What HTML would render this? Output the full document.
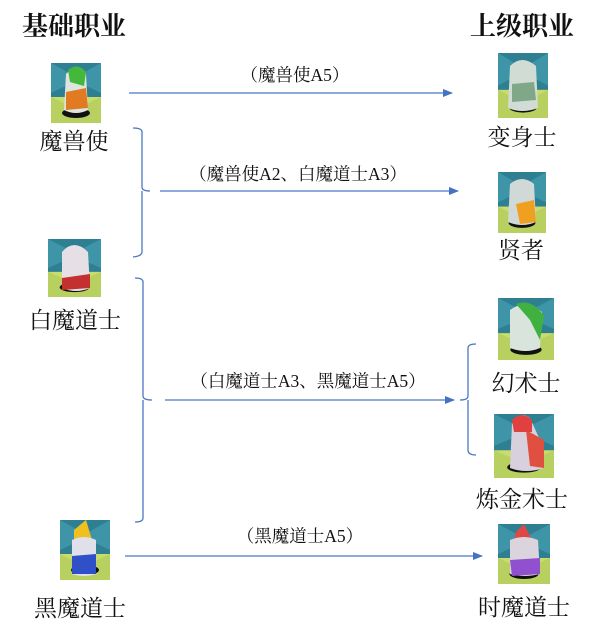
<!DOCTYPE html>
<html><head><meta charset="utf-8"><style>
body{margin:0;background:#fff;width:616px;height:638px;overflow:hidden}
svg text{font-family:"Liberation Serif","Noto Serif CJK SC",serif;fill:#111}
.h{font-family:"Liberation Serif","Noto Serif CJK SC",serif;font-weight:bold;font-size:26px}
.n{font-size:23px}
.l{font-size:17.5px}
</style></head><body>
<svg width="616" height="638" viewBox="0 0 616 638" xmlns="http://www.w3.org/2000/svg">
<defs>
<marker id="a" markerWidth="10" markerHeight="8" refX="9" refY="4" orient="auto" markerUnits="userSpaceOnUse"><path d="M0,0 L10,4 L0,8 z" fill="#4472c4"/></marker>
<symbol id="tile" viewBox="0 0 50 60" preserveAspectRatio="none"><rect width="50" height="60" fill="#2f7f92"/><path d="M0,0 L25,14 L50,0 L50,30 L25,18 L0,30z" fill="#3f95a8"/><rect y="34" width="50" height="26" fill="#c9dc6e"/><path d="M0,34 L25,46 L50,34 L50,60 L0,60z" fill="#b8d060"/><ellipse cx="25" cy="50" rx="14" ry="5" fill="#111"/></symbol>
</defs>
<text class="h" x="22" y="35">基础职业</text>
<text class="h" x="470" y="35">上级职业</text>

<use href="#tile" x="51" y="63" width="50" height="60"/>
<path d="M66,74 Q76,64 86,74 L88,110 Q76,116 64,110z" fill="#dde5e0"/><path d="M68,70 Q78,62 86,72 L84,86 L70,82z" fill="#44b83a"/><path d="M66,92 L86,88 L88,108 L66,110z" fill="#e27a22"/>
<text class="n" x="74" y="149" text-anchor="middle">魔兽使</text>

<use href="#tile" x="48" y="239" width="53" height="58"/>
<path d="M62,252 Q74,238 88,252 L90,288 Q76,294 62,288z" fill="#e6dfe6"/><path d="M62,278 L90,274 L90,288 L62,290z" fill="#c43030"/>
<text class="n" x="75" y="328" text-anchor="middle">白魔道士</text>

<use href="#tile" x="60" y="520" width="50" height="60"/>
<path d="M74,530 L86,520 L92,540 L74,540z" fill="#f0c020"/><path d="M72,540 Q84,534 96,540 L96,574 Q84,578 72,574z" fill="#e0e0ea"/><path d="M72,556 L96,554 L96,574 L72,574z" fill="#3050c8"/>
<text class="n" x="80" y="616" text-anchor="middle">黑魔道士</text>

<use href="#tile" x="498" y="53" width="50" height="65"/>
<path d="M510,66 Q522,54 536,66 L538,108 Q522,114 508,108z" fill="#d0dcd4"/><path d="M512,84 L534,82 L536,100 L512,102z" fill="#80a888"/>
<text class="n" x="522" y="145" text-anchor="middle">变身士</text>

<use href="#tile" x="498" y="172" width="48" height="61"/>
<path d="M510,184 Q522,174 534,184 L536,222 Q522,228 508,222z" fill="#d0d8d8"/><path d="M516,204 L534,200 L536,222 L520,224z" fill="#f0a020"/>
<text class="n" x="521" y="258" text-anchor="middle">贤者</text>

<use href="#tile" x="498" y="298" width="56" height="62"/>
<path d="M510,310 Q526,298 542,312 L540,348 Q526,354 510,348z" fill="#d8e4dc"/><path d="M516,304 Q532,298 544,316 L540,340 L530,320z" fill="#40b040"/>
<text class="n" x="526" y="391" text-anchor="middle">幻术士</text>

<use href="#tile" x="494" y="414" width="60" height="64"/>
<path d="M512,424 Q520,410 530,418 L540,440 L544,468 Q526,474 510,468z" fill="#d8d0dc"/><path d="M526,430 L544,440 L544,468 L530,466z" fill="#e05040"/><path d="M512,420 Q522,410 532,420 L532,432 L514,432z" fill="#e04040"/>
<text class="n" x="522" y="507" text-anchor="middle">炼金术士</text>

<use href="#tile" x="498" y="524" width="52" height="60"/>
<path d="M516,532 L524,524 L532,540 L514,540z" fill="#e04848"/><path d="M510,540 Q524,534 538,540 L540,574 Q524,578 510,574z" fill="#dcd4dc"/><path d="M510,560 L540,558 L540,574 L512,576z" fill="#9050d0"/>
<text class="n" x="524" y="615" text-anchor="middle">时魔道士</text>

<g stroke="#4a78c0" stroke-width="1.3" fill="none">
<line x1="129" y1="93" x2="452" y2="93" marker-end="url(#a)"/>
<path d="M133,128 Q142,128 142,132 L142,187 Q142,191 150,191 M142,191 Q142,195 142,200 L142,252 Q142,256 133,257"/>
<line x1="160" y1="191" x2="458" y2="191" marker-end="url(#a)"/>
<path d="M135,278 Q143,278 143,282 L143,396 Q143,400 152,400 M143,400 L143,518 Q143,522 135,522"/>
<line x1="165" y1="400" x2="454" y2="400" marker-end="url(#a)"/>
<path d="M476,344 Q468,344 468,348 L468,396 Q468,400 460,400 M468,400 L468,450 Q468,455 476,455"/>
<line x1="125" y1="556" x2="482" y2="556" marker-end="url(#a)"/>
</g>
<text class="l" x="295" y="81" text-anchor="middle">（魔兽使A5）</text>
<text class="l" x="298" y="180" text-anchor="middle">（魔兽使A2、白魔道士A3）</text>
<text class="l" x="308" y="387" text-anchor="middle">（白魔道士A3、黑魔道士A5）</text>
<text class="l" x="300" y="542" text-anchor="middle">（黑魔道士A5）</text>
</svg>
</body></html>
